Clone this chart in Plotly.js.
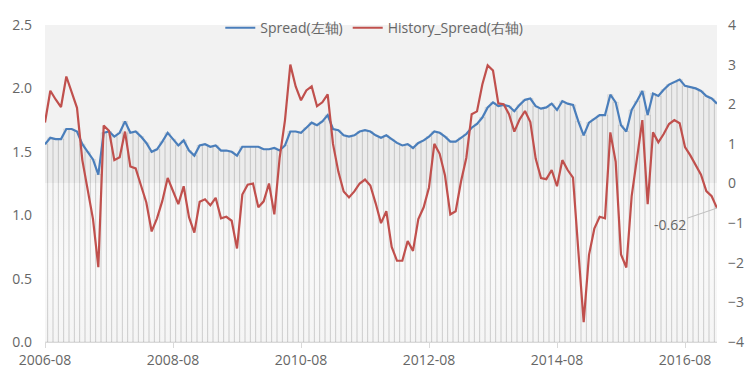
<!DOCTYPE html>
<html>
<head>
<meta charset="utf-8">
<script src="https://cdn.plot.ly/plotly-3.0.1.min.js"></script>
<style>
html,body{margin:0;padding:0;background:#fff;}
#chart{width:747px;height:372px;}
</style>
</head>
<body>
<div id="chart"></div>
<script>
// Monthly categories 2006-08 .. 2017-02
const startYear = 2006, startMonth = 8, nMonths = 127;
const months = [];
for (let k = 0; k < nMonths; k++) {
  const m = startMonth - 1 + k;
  const y = startYear + Math.floor(m / 12);
  const mm = (m % 12) + 1;
  months.push(y + '-' + (mm < 10 ? '0' + mm : '' + mm));
}
const tickLabels = ['2006-08','2008-08','2010-08','2012-08','2014-08','2016-08'];

// Spread (left axis)
const spread = [
1.56,1.61,1.60,1.60,1.68,1.68,1.66,1.56,1.50,1.44,
1.32,1.65,1.66,1.62,1.65,1.74,1.65,1.66,1.62,1.57,
1.50,1.52,1.58,1.65,1.60,1.55,1.59,1.51,1.47,1.55,
1.56,1.54,1.55,1.51,1.51,1.50,1.47,1.54,1.54,1.54,
1.54,1.52,1.52,1.53,1.51,1.55,1.66,1.66,1.65,1.69,
1.73,1.71,1.74,1.79,1.68,1.67,1.63,1.62,1.63,1.66,
1.67,1.66,1.63,1.61,1.63,1.60,1.57,1.55,1.56,1.53,
1.57,1.59,1.62,1.66,1.65,1.62,1.58,1.58,1.61,1.64,
1.69,1.72,1.77,1.85,1.89,1.86,1.87,1.86,1.82,1.87,
1.91,1.92,1.86,1.84,1.85,1.88,1.83,1.90,1.88,1.87,
1.74,1.63,1.73,1.76,1.79,1.79,1.95,1.89,1.71,1.66,
1.83,1.90,1.98,1.79,1.96,1.94,1.99,2.03,2.05,2.07,
2.02,2.01,2.00,1.98,1.94,1.92,1.88
];

// History_Spread (right axis)
const historySpread = [
1.54,2.34,2.12,1.93,2.70,2.32,1.91,0.59,-0.20,-0.90,
-2.11,1.46,1.33,0.59,0.66,1.31,0.43,0.38,-0.05,-0.48,
-1.21,-0.88,-0.44,0.14,-0.19,-0.52,-0.07,-0.85,-1.24,-0.46,
-0.40,-0.55,-0.36,-0.88,-0.84,-0.94,-1.64,-0.28,-0.03,0.00,
-0.60,-0.45,0.00,-0.78,0.65,1.60,3.00,2.45,2.10,2.35,
2.45,1.95,2.05,2.25,1.00,0.30,-0.20,-0.35,-0.20,0.00,
0.10,-0.05,-0.50,-1.00,-0.70,-1.60,-1.95,-1.95,-1.45,-1.70,
-0.90,-0.60,-0.10,1.00,0.75,0.20,-0.78,-0.70,0.05,0.65,
1.75,1.82,2.50,2.98,2.85,2.02,2.00,1.75,1.31,1.62,
1.83,1.55,0.63,0.14,0.11,0.34,-0.07,0.59,0.34,0.15,
-1.70,-3.50,-1.80,-1.14,-0.84,-0.88,1.29,0.55,-1.79,-2.12,
-0.32,0.71,1.60,-0.52,1.29,1.04,1.25,1.50,1.60,1.52,
0.92,0.71,0.47,0.22,-0.19,-0.32,-0.62
];

const lastLabel = historySpread[historySpread.length - 1].toFixed(2);

const FONT = 'Open Sans, Lato, sans-serif';
const TXT = '#666666';

const bgSvg = "<svg xmlns='http://www.w3.org/2000/svg' width='10' height='100' preserveAspectRatio='none'>" +
  "<defs><linearGradient id='g' x1='0' y1='0' x2='0' y2='1'>" +
  "<stop offset='0' stop-color='#f2f2f2'/>" +
  "<stop offset='0.5' stop-color='#f2f2f2'/>" +
  "<stop offset='0.5' stop-color='#fcfcfc'/>" +
  "<stop offset='0.75' stop-color='#ffffff'/>" +
  "<stop offset='1' stop-color='#fbfbfb'/>" +
  "</linearGradient></defs><rect width='10' height='100' fill='url(#g)'/></svg>";

const traces = [
  {
    type: 'bar', x: months, y: spread, yaxis: 'y', showlegend: false, hoverinfo: 'skip',
    marker: { color: 'rgba(0,0,0,0.025)', line: { color: 'rgba(0,0,0,0.09)', width: 1 } }
  },
  {
    type: 'scatter', mode: 'lines', name: 'Spread(左轴)', x: months, y: spread, yaxis: 'y',
    line: { color: '#4a7ebb', width: 2.2 }
  },
  {
    type: 'scatter', mode: 'lines', name: 'History_Spread(右轴)', x: months, y: historySpread, yaxis: 'y2',
    line: { color: '#c0504d', width: 2.2 }
  }
];

const layout = {
  width: 747, height: 372,
  margin: { l: 45, r: 30, t: 19, b: 30 },
  paper_bgcolor: '#ffffff',
  plot_bgcolor: 'rgba(0,0,0,0)',
  font: { family: FONT, size: 14, color: TXT },
  bargap: 0,
  showlegend: true,
  legend: {
    orientation: 'h', x: 0.49, xanchor: 'center', y: 0.99, yanchor: 'middle',
    bgcolor: 'rgba(0,0,0,0)', font: { family: FONT, size: 14, color: TXT },
    itemwidth: 30, tracegroupgap: 0
  },
  xaxis: {
    type: 'category', range: [0, months.length - 1],
    tickmode: 'array', tickvals: tickLabels, ticktext: tickLabels,
    ticks: 'outside', ticklen: 5, tickcolor: '#d9d9d9',
    showline: true, linecolor: '#d9d9d9', linewidth: 1,
    showgrid: false, zeroline: false,
    tickfont: { family: FONT, size: 14, color: TXT }
  },
  yaxis: {
    range: [0, 2.5], dtick: 0.5, tickformat: '.1f',
    showgrid: false, zeroline: false, showline: false, ticks: '',
    ticklabelstandoff: 12,
    tickfont: { family: FONT, size: 14, color: TXT }
  },
  yaxis2: {
    overlaying: 'y', side: 'right', range: [-4, 4], dtick: 1,
    showgrid: false, zeroline: false, showline: false, ticks: '',
    ticklabelstandoff: 10,
    tickfont: { family: FONT, size: 14, color: TXT }
  },
  images: [{
    source: 'data:image/svg+xml;charset=utf-8,' + encodeURIComponent(bgSvg),
    xref: 'paper', yref: 'paper', x: 0, y: 1, sizex: 1, sizey: 1,
    xanchor: 'left', yanchor: 'top', sizing: 'stretch', layer: 'below'
  }],
  annotations: [{
    x: months[months.length - 1], y: historySpread[historySpread.length - 1],
    xref: 'x', yref: 'y2', text: lastLabel,
    showarrow: true, arrowhead: 0, arrowwidth: 1, arrowcolor: '#bfbfbf',
    ax: -47, ay: 16, standoff: 0,
    font: { family: FONT, size: 14, color: TXT }
  }],
  hovermode: false
};

Plotly.newPlot('chart', traces, layout, { staticPlot: true, displayModeBar: false });
</script>
</body>
</html>
